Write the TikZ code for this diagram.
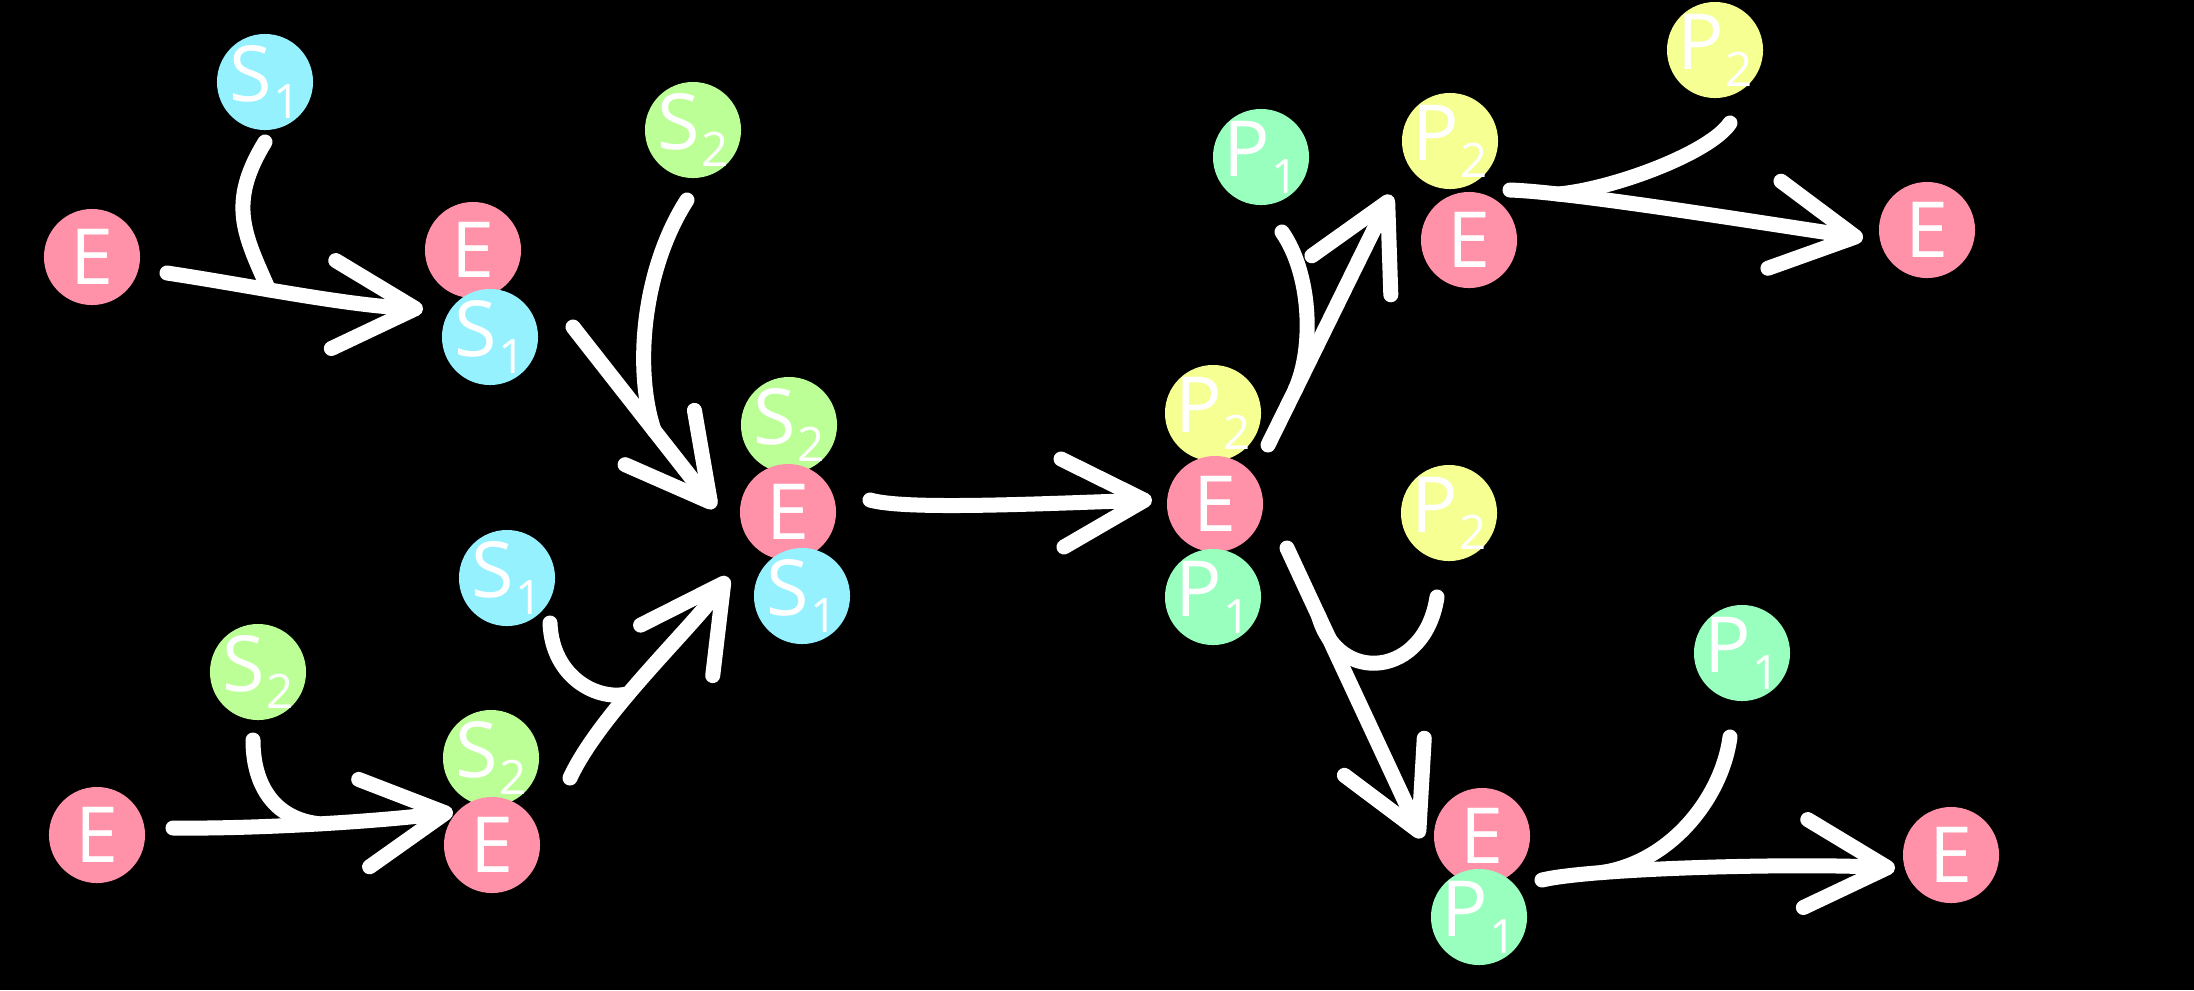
\documentclass[tikz,border=0pt]{standalone}
\usepackage{fontspec}
\setmainfont{Open Sans}
\usetikzlibrary{arrows.meta,calc}

\definecolor{enzcol}{RGB}{255,146,168}
\definecolor{sonecol}{RGB}{150,241,255}
\definecolor{stwocol}{RGB}{188,255,150}
\definecolor{ponecol}{RGB}{152,255,190}
\definecolor{ptwocol}{RGB}{246,255,146}

% species label: letter with a lowered index
\newcommand{\spc}[2]{#1\kern0.01em\raisebox{-0.22em}{\fontsize{13.5}{14}\selectfont #2}}

\begin{document}
\begin{tikzpicture}[x=0.01cm,y=-0.01cm,
  tag/.style={text=white,inner sep=0pt,outer sep=0pt,font=\fontsize{22}{22}\selectfont},
  ball/.style={circle,minimum size=0.96cm,inner sep=0pt,outer sep=0pt,
    label={[tag]center:#1}},
  enzyme/.style={ball={#1},fill=enzcol},
  subone/.style={ball={#1},fill=sonecol},
  subtwo/.style={ball={#1},fill=stwocol},
  prodone/.style={ball={#1},fill=ponecol},
  prodtwo/.style={ball={#1},fill=ptwocol},
  wire/.style={draw=white,line width=0.15cm,line cap=round,line join=round},
  react/.style={wire,-{Straight Barb[length=0.82cm,width=0.88cm,round]}}
]
% canvas
\fill[black] (0,0) rectangle (2194,990);
\useasboundingbox (0,0) rectangle (2194,990);

% ---- binding of S1 (top left) ----
\node[enzyme={E}]          (eA)  at (92,257)  {};
\node[subone={\spc{S}{1}}] (s1A) at (265,82)  {};
\node[enzyme={E}]          (cAE) at (473,250) {};
\node[subone={\spc{S}{1}}] (cAS) at (490,337) {};
\node[subtwo={\spc{S}{2}}] (s2T) at (693,130) {};

% ---- binding of S2 (bottom left) ----
\node[enzyme={E}]          (eB)  at (97,835)  {};
\node[subtwo={\spc{S}{2}}] (s2B) at (258,672) {};
\node[subtwo={\spc{S}{2}}] (cBS) at (491,758) {};
\node[enzyme={E}]          (cBE) at (492,845) {};
\node[subone={\spc{S}{1}}] (s1B) at (507,578) {};

% ---- ternary complex ----
\node[subtwo={\spc{S}{2}}] (mS2) at (789,425) {};
\node[enzyme={E}]          (mE)  at (788,512) {};
\node[subone={\spc{S}{1}}] (mS1) at (802,596) {};

% ---- product complex ----
\node[prodtwo={\spc{P}{2}}] (rP2) at (1213,413) {};
\node[enzyme={E}]           (rE)  at (1215,504) {};
\node[prodone={\spc{P}{1}}] (rP1) at (1213,597) {};

% ---- release of P1 first (top right) ----
\node[prodone={\spc{P}{1}}] (p1T) at (1261,157) {};
\node[prodtwo={\spc{P}{2}}] (cCP) at (1450,141) {};
\node[enzyme={E}]           (cCE) at (1469,240) {};
\node[prodtwo={\spc{P}{2}}] (p2F) at (1715,50)  {};
\node[enzyme={E}]           (eF1) at (1927,230) {};

% ---- release of P2 first (bottom right) ----
\node[prodtwo={\spc{P}{2}}] (p2M) at (1449,513) {};
\node[prodone={\spc{P}{1}}] (p1M) at (1742,653) {};
\node[enzyme={E}]           (cDE) at (1482,836) {};
\node[prodone={\spc{P}{1}}] (cDP) at (1479,917) {};
\node[enzyme={E}]           (eF2) at (1951,855) {};

% ---- reaction arrows with joining / leaving species ----
% E + S1 -> ES1
\draw[react] ($(eA)+(75,16)$) .. controls +(80,12) and +(-80,-4) ..
  ($(cAS)+(-67,-28)$) coordinate[pos=0.4] (jA);
\draw[wire] ($(s1A)+(0,60)$) .. controls +(-38,62) and +(-24,-55) .. (jA);

% E + S2 -> ES2
\draw[react] ($(eB)+(76,-7)$) .. controls +(80,1) and +(-80,10) ..
  ($(cBE)+(-39,-33)$) coordinate[pos=0.52] (jB);
\draw[wire] ($(s2B)+(-5,68)$) .. controls +(0,45) and +(-45,-5) .. (jB);

% ES1 + S2 -> ES1S2
\draw[react] ($(cAS)+(83,-10)$) .. controls +(47,60) and +(-47,-60) ..
  ($(mE)+(-73,-4)$) coordinate[pos=0.57] (jH);
\draw[wire] ($(s2T)+(-6,70)$) .. controls +(-45,70) and +(-20,-60) .. (jH);

% ES2 + S1 -> ES1S2
\draw[react] ($(cBS)+(79,20)$) .. controls +(30,-65) and +(-35,50) ..
  ($(mS1)+(-74,-19)$) coordinate[pos=0.4] (jC);
\draw[wire] ($(s1B)+(43,45)$) .. controls +(2,55) and +(-30,8) .. (jC);

% ES1S2 -> EP1P2
\draw[react] ($(mE)+(82,-12)$) .. controls +(35,10) and +(-120,4) ..
  ($(rE)+(-63,-4)$);

% EP1P2 -> EP2 + P1
\draw[react] ($(rP2)+(55,32)$) .. controls +(41,-83) and +(-41,83) ..
  ($(cCE)+(-78,-45)$) coordinate[pos=0.22] (jD);
\draw[wire] ($(p1T)+(21,75)$) .. controls +(28,40) and +(20,-45) .. (jD);

% EP2 -> E + P2
\draw[react] ($(cCE)+(41,-50)$) .. controls +(60,2) and +(-120,-18) ..
  ($(eF1)+(-64,8)$) coordinate[pos=0.2] (jE);
\draw[wire] ($(p2F)+(15,73)$) .. controls +(-20,30) and +(55,-5) .. (jE);

% EP1P2 -> EP1 + P2
\draw[react] ($(rE)+(72,44)$) .. controls +(45,97) and +(-45,-97) ..
  ($(cDE)+(-60,2)$) coordinate[pos=0.234] (jF);
\draw[wire] ($(p2M)+(-12,84)$) .. controls +(-12,80) and +(20,70) .. (jF);

% EP1 -> E + P1
\draw[react] ($(cDP)+(63,-37)$) .. controls +(50,-12) and +(-100,-5) ..
  ($(eF2)+(-56,13)$) coordinate[pos=0.24] (jG);
\draw[wire] ($(p1M)+(-12,84)$) .. controls +(-8,60) and +(70,-10) .. (jG);
\end{tikzpicture}
\end{document}
